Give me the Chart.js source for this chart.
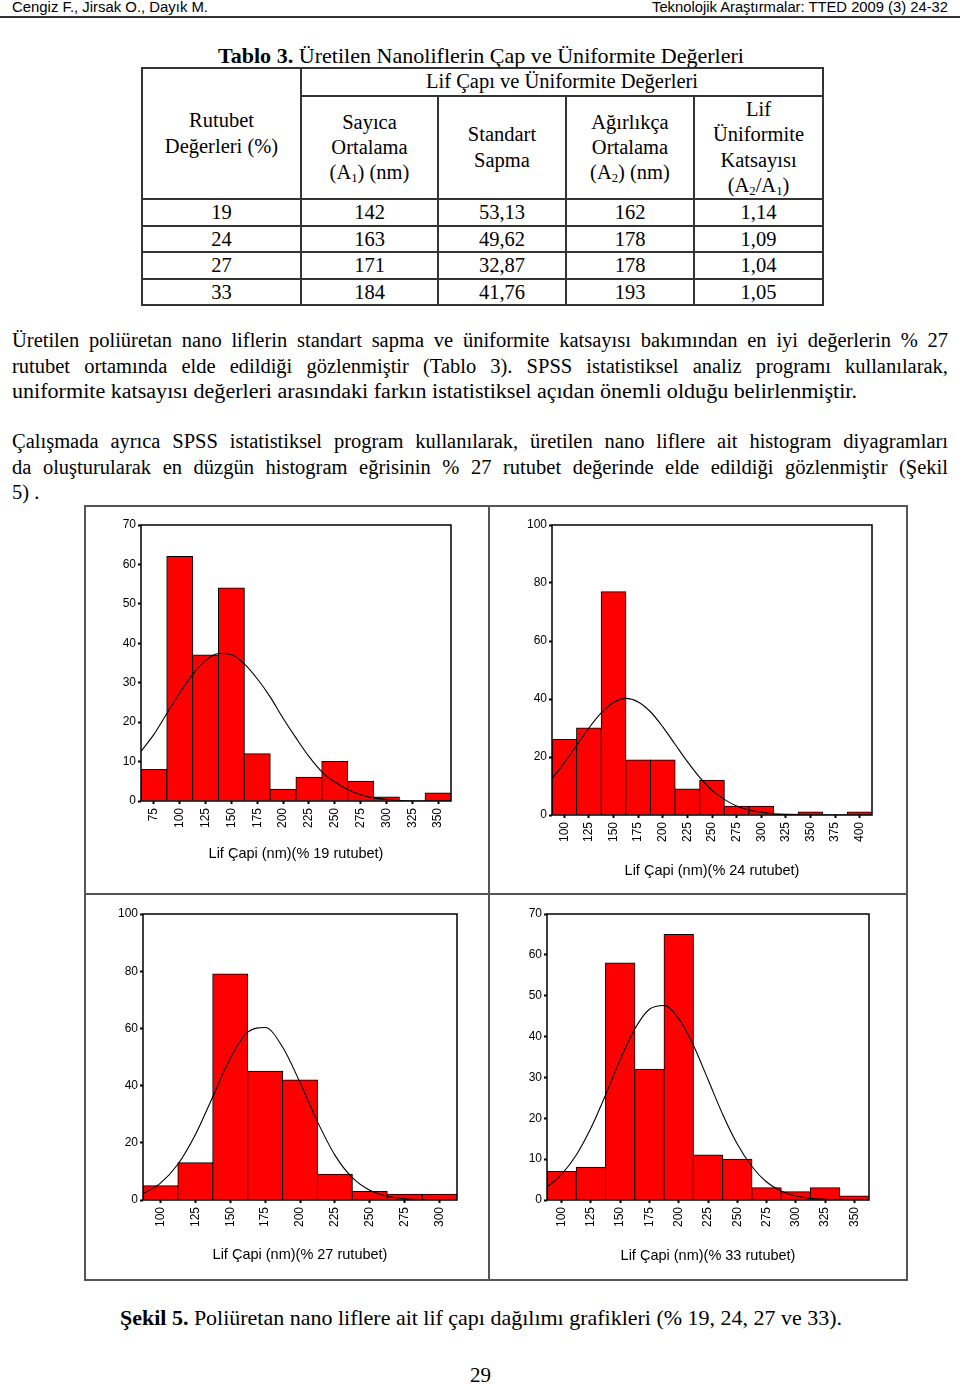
<!DOCTYPE html>
<html lang="tr">
<head>
<meta charset="utf-8">
<title>Tablo 3 / Şekil 5</title>
<script src="https://cdn.jsdelivr.net/npm/chart.js@4.4.1/dist/chart.umd.min.js"></script>
<style>
    html, body { margin: 0; padding: 0; background: #fff; }
    body { width: 960px; height: 1384px; position: relative; overflow: hidden; color: #000;
           font-family: 'Liberation Serif', 'Times New Roman', serif; }
    .abs { position: absolute; white-space: nowrap; }
    .fit { display: inline-block; transform-origin: 0 50%; }
    .head { font-family: 'Liberation Sans', Arial, sans-serif; font-size: 14px; line-height: 14px; top: 0; }
    .rule { position: absolute; left: 0; top: 16px; width: 960px; height: 2px; background: #333; }
    .tt { font-size: 21px; line-height: 26px; }
    #tab { position: absolute; left: 141px; top: 67px; width: 681px; border-collapse: collapse; table-layout: fixed;
           font-size: 20.5px; line-height: 25.3px; }
    #tab td { border: 2px solid #333; text-align: center; vertical-align: middle; padding: 0; }
    #tab td.d { line-height: 21px; }
    #tab sub { font-size: 0.62em; vertical-align: -0.2em; line-height: 0; }
    .txt { position: absolute; left: 12px; width: 936px; font-size: 20.5px; line-height: 25.5px; }
    .txt div { white-space: nowrap; }
    .txt .j { text-align: justify; text-align-last: justify; white-space: normal; }
    .fig { position: absolute; left: 84px; top: 505px; width: 824px; height: 776px; border: 2px solid #555; box-sizing: border-box; }
    .vline { position: absolute; left: 488px; top: 505px; width: 2px; height: 776px; background: #555; }
    .hline { position: absolute; left: 84px; top: 893px; width: 824px; height: 2px; background: #555; }
    canvas { position: absolute; }
</style>
</head>
<body>

<div class="abs head" style="left:12px"><span class="fit" data-w="196">Cengiz F., Jirsak O., Dayık M.</span></div>
<div class="abs head" style="left:652px"><span class="fit" data-w="296">Teknolojik Araştırmalar: TTED 2009 (3) 24-32</span></div>
<div class="rule"></div>

<div class="abs tt" style="left:218px; top:43px"><span class="fit" data-w="526"><b>Tablo 3.</b> Üretilen Nanoliflerin Çap ve Üniformite Değerleri</span></div>

<table id="tab">
    <colgroup>
        <col style="width:159px"><col style="width:137px"><col style="width:128px"><col style="width:128px"><col style="width:129px">
    </colgroup>
    <tbody id="tabBody">
        <tr style="height:28px">
            <td rowspan="2">Rutubet<br>Değerleri (%)</td>
            <td colspan="4">Lif Çapı ve Üniformite Değerleri</td>
        </tr>
        <tr style="height:101px">
            <td>Sayıca<br>Ortalama<br>(A<sub>1</sub>) (nm)</td>
            <td>Standart<br>Sapma</td>
            <td>Ağırlıkça<br>Ortalama<br>(A<sub>2</sub>) (nm)</td>
            <td>Lif<br>Üniformite<br>Katsayısı<br>(A<sub>2</sub>/A<sub>1</sub>)</td>
        </tr>
    </tbody>
</table>

<div class="txt" style="top:328px">
    <div class="j">Üretilen poliüretan nano liflerin standart sapma ve üniformite katsayısı bakımından en iyi değerlerin % 27</div>
    <div class="j">rutubet ortamında elde edildiği gözlenmiştir (Tablo 3). SPSS istatistiksel analiz programı kullanılarak,</div>
    <div><span class="fit" data-w="845">uniformite katsayısı değerleri arasındaki farkın istatistiksel açıdan önemli olduğu belirlenmiştir.</span></div>
</div>
<div class="txt" style="top:429px">
    <div class="j">Çalışmada ayrıca SPSS istatistiksel program kullanılarak, üretilen nano liflere ait histogram diyagramları</div>
    <div class="j">da oluşturularak en düzgün histogram eğrisinin % 27 rutubet değerinde elde edildiği gözlenmiştir (Şekil</div>
    <div>5) .</div>
</div>

<div class="fig"></div>
<div class="vline"></div>
<div class="hline"></div>

<canvas id="c19" width="405" height="389" style="left:84px; top:505px"></canvas>
<canvas id="c24" width="419" height="389" style="left:489px; top:505px"></canvas>
<canvas id="c27" width="405" height="387" style="left:84px; top:894px"></canvas>
<canvas id="c33" width="419" height="387" style="left:489px; top:894px"></canvas>

<div class="abs tt" style="left:120px; top:1305px"><span class="fit" data-w="722"><b>Şekil 5.</b> Poliüretan nano liflere ait lif çapı dağılımı grafikleri (% 19, 24, 27 ve 33).</span></div>
<div class="abs tt" style="left:470px; top:1362px">29</div>

<script>
// tablo 3 degerleri
const rutubet = ['19', '24', '27', '33']
const sayicaOrt = ['142', '163', '171', '184']
const stdSapma = ['53,13', '49,62', '32,87', '41,76']
const agirlikcaOrt = ['162', '178', '178', '193']
const uniformite = ['1,14', '1,09', '1,04', '1,05']
const satirYuk = [27, 26, 27, 26]

// histogram verileri (sekil 5)
const binWidth = 25

const bins19 = [75, 100, 125, 150, 175, 200, 225, 250, 275, 300, 325, 350]
const counts19 = [8, 62, 37, 54, 12, 3, 6, 10, 5, 1, 0, 2]
const yTicks19 = [0, 10, 20, 30, 40, 50, 60, 70]
const curveX19 = [62.5, 75, 87.5, 100, 112.5, 125, 137.5, 150, 162.5, 175, 187.5, 200, 212.5, 225, 237.5, 250, 262.5, 275, 287.5, 300, 312.5, 325, 337.5, 350, 362.5]
const curveY19 = [12.6, 16.9, 22.2, 27.4, 32.1, 35.6, 37.4, 37.1, 34.8, 31.0, 26.4, 21.0, 16.0, 11.3, 7.4, 4.8, 2.9, 1.6, 0.8, 0.4, 0.1, 0, 0, 0, 0]

const bins24 = [100, 125, 150, 175, 200, 225, 250, 275, 300, 325, 350, 375, 400]
const counts24 = [26, 30, 77, 19, 19, 9, 12, 3, 3, 0.3, 1, 0, 1]
const yTicks24 = [0, 20, 40, 60, 80, 100]
const curveX24 = [87.5, 100, 112.5, 125, 137.5, 150, 162.5, 175, 187.5, 200, 212.5, 225, 237.5, 250, 262.5, 275, 287.5, 300, 312.5, 325, 337.5, 350, 362.5, 375, 387.5, 400, 412.5]
const curveY24 = [12.6, 18.0, 24.0, 30.0, 35.2, 38.8, 40.2, 39.0, 35.6, 30.4, 24.4, 18.4, 13.0, 8.6, 5.4, 3.1, 1.7, 0.9, 0.4, 0.2, 0.1, 0, 0, 0, 0, 0, 0]

const bins27 = [100, 125, 150, 175, 200, 225, 250, 275, 300]
const counts27 = [5, 13, 79, 45, 42, 9, 3, 2, 2]
const yTicks27 = [0, 20, 40, 60, 80, 100]
const curveX27 = [87.5, 100, 112.5, 125, 137.5, 150, 162.5, 175, 187.5, 200, 212.5, 225, 237.5, 250, 262.5, 275, 287.5, 300, 312.5]
const curveY27 = [2.2, 5.9, 12.5, 22.8, 36.1, 49.5, 58.7, 60.3, 53.5, 41.1, 27.4, 15.7, 7.8, 3.4, 1.3, 0.4, 0.1, 0, 0]

const bins33 = [100, 125, 150, 175, 200, 225, 250, 275, 300, 325, 350]
const counts33 = [7, 8, 58, 32, 65, 11, 10, 3, 2, 3, 1]
const yTicks33 = [0, 10, 20, 30, 40, 50, 60, 70]
const curveX33 = [87.5, 100, 112.5, 125, 137.5, 150, 162.5, 175, 187.5, 200, 212.5, 225, 237.5, 250, 262.5, 275, 287.5, 300, 312.5, 325, 337.5, 350, 362.5]
const curveY33 = [3.2, 6.3, 11.0, 17.6, 25.7, 34.3, 41.9, 46.7, 47.6, 44.4, 37.9, 29.5, 21.0, 13.7, 8.2, 4.4, 2.2, 1.0, 0.4, 0.2, 0.1, 0, 0]

const basliklar = {
    c19: 'Lif Çapi (nm)(% 19 rutubet)',
    c24: 'Lif Çapi (nm)(% 24 rutubet)',
    c27: 'Lif Çapi (nm)(% 27 rutubet)',
    c33: 'Lif Çapi (nm)(% 33 rutubet)'
}

// tablo satirlari
let tbody = document.getElementById('tabBody')
for (let i = 0; i < rutubet.length; i++) {
    let tr = document.createElement('tr')
    tr.style.height = satirYuk[i] + 'px'
    let hucreler = [rutubet[i], sayicaOrt[i], stdSapma[i], agirlikcaOrt[i], uniformite[i]]
    hucreler.forEach(h => {
        let td = document.createElement('td')
        td.className = 'd'
        td.textContent = h
        tr.appendChild(td)
    })
    tbody.appendChild(tr)
}

Chart.defaults.font.family = "'Liberation Sans', Arial, sans-serif"
Chart.defaults.color = '#000'

// grafik cercevesi
const cerceve = {
    id: 'cerceve',
    afterDatasetsDraw(chart) {
        const { ctx, chartArea: a } = chart
        ctx.save()
        ctx.strokeStyle = '#000'
        ctx.lineWidth = 1.5
        ctx.strokeRect(a.left, a.top, a.right - a.left, a.bottom - a.top)
        ctx.restore()
    }
}

// kutu olculeri: y eksen genisligi, sag bosluk, x eksen yuksekligi, baslik alt boslugu
const kutular = {
    c19: { left: 57, right: 38, top: 20, bottom: 93, titlePad: 31 },
    c24: { left: 63, right: 36, top: 20, bottom: 79, titlePad: 14 },
    c27: { left: 59, right: 32, top: 20, bottom: 81, titlePad: 17 },
    c33: { left: 58, right: 39, top: 20, bottom: 81, titlePad: 16 }
}

function histogram(id, bins, counts, curveX, curveY, yTicks) {
    const k = kutular[id]
    new Chart(document.getElementById(id), {
        type: 'bar',
        data: {
            datasets: [{
                type: 'line',
                data: curveX.map((x, i) => ({ x: x, y: curveY[i] })),
                borderColor: '#000',
                borderWidth: 1.1,
                pointRadius: 0,
                fill: false,
                cubicInterpolationMode: 'monotone',
                order: 0
            }, {
                type: 'bar',
                data: bins.map((x, i) => ({ x: x, y: counts[i] })),
                backgroundColor: '#ff0000',
                borderColor: '#000',
                borderWidth: 1,
                borderSkipped: 'start',
                inflateAmount: 0.5,
                barPercentage: 1,
                categoryPercentage: 1,
                order: 1
            }]
        },
        options: {
            responsive: false,
            animation: false,
            layout: { padding: { left: 0, right: k.right, top: k.top, bottom: 0 } },
            plugins: {
                legend: { display: false },
                tooltip: { enabled: false }
            },
            scales: {
                x: {
                    type: 'linear',
                    offset: false,
                    min: bins[0] - binWidth / 2,
                    max: bins[bins.length - 1] + binWidth / 2,
                    afterBuildTicks: s => { s.ticks = bins.map(v => ({ value: v })) },
                    afterFit: s => { s.height = k.bottom },
                    ticks: { autoSkip: false, minRotation: 90, maxRotation: 90, padding: 4, font: { size: 12 } },
                    grid: { offset: false, drawOnChartArea: false, tickLength: 3, tickWidth: 2, tickColor: '#000' },
                    border: { display: false },
                    title: {
                        display: true,
                        text: basliklar[id],
                        font: { size: 14.5 },
                        padding: { top: 0, bottom: k.titlePad }
                    }
                },
                y: {
                    min: 0,
                    max: yTicks[yTicks.length - 1],
                    afterBuildTicks: s => { s.ticks = yTicks.map(v => ({ value: v })) },
                    afterFit: s => { s.width = k.left },
                    ticks: { padding: 2, font: { size: 12 } },
                    grid: { drawOnChartArea: false, tickLength: 3, tickWidth: 2, tickColor: '#000' },
                    border: { display: false }
                }
            }
        },
        plugins: [cerceve]
    })
}

histogram('c19', bins19, counts19, curveX19, curveY19, yTicks19)
histogram('c24', bins24, counts24, curveX24, curveY24, yTicks24)
histogram('c27', bins27, counts27, curveX27, curveY27, yTicks27)
histogram('c33', bins33, counts33, curveX33, curveY33, yTicks33)

// metin genisliklerini sayfaya uydur
document.querySelectorAll('.fit').forEach(el => {
    let w = el.getBoundingClientRect().width
    el.style.transform = 'scaleX(' + (el.dataset.w / w) + ')'
})
</script>
</body>
</html>
